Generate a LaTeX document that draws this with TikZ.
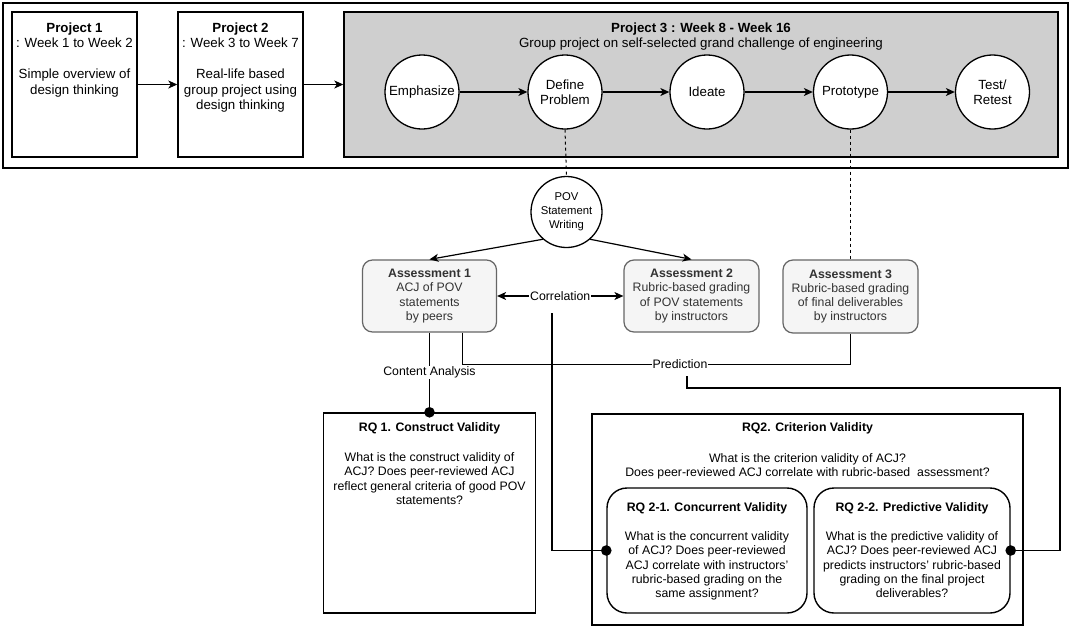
\documentclass[tikz,border=0pt]{standalone}
\usepackage{fontspec}
\setmainfont{Liberation Sans}
\usetikzlibrary{arrows.meta,calc}
\definecolor{pgray}{RGB}{207,207,207}
\definecolor{afill}{HTML}{F5F5F5}
\definecolor{aline}{HTML}{666666}
\definecolor{atext}{HTML}{333333}
\newcommand{\fbig}{\fontsize{13.3}{15.5}\selectfont}
\newcommand{\fmid}{\fontsize{12.3}{14.2}\selectfont}
\newcommand{\fpov}{\fontsize{11.3}{14}\selectfont}
\begin{document}
\begin{tikzpicture}[x=1pt,y=-1pt,
  plainbox/.style={draw, line width=1.4pt, inner sep=0pt},
  stagecirc/.style={draw, circle, fill=white, line width=1.3pt, minimum size=74pt, inner sep=0pt, align=center, font=\fbig},
  assess/.style={draw=aline, fill=afill, rounded corners=10pt, line width=1.2pt, text=atext, align=center, font=\fmid, inner sep=0pt, minimum width=134pt, minimum height=72pt},
  rqbox/.style={draw, rounded corners=20pt, line width=1.4pt, inner sep=0pt, minimum width=198pt, minimum height=125pt},
  boxtext/.style={anchor=north, align=center, inner sep=0pt},
  conn/.style={line width=1.2pt},
  arr/.style={conn, -{Stealth[length=9pt,width=8pt,inset=2.5pt]}},
  dualarr/.style={conn, {Stealth[length=9pt,width=8pt,inset=2.5pt]}-{Stealth[length=9pt,width=8pt,inset=2.5pt]}},
  dashline/.style={line width=1pt, dash pattern=on 3pt off 3pt},
  lbl/.style={fill=white, inner sep=1pt, font=\fmid}
]
\useasboundingbox (0,0) rectangle (1072,627);
\fill[white] (0,0) rectangle (1072,627);

% top frame
\node[plainbox, line width=1.6pt, minimum width=1065pt, minimum height=165pt] (frame) at (535.5,85.5) {};
\node[plainbox, minimum width=125pt, minimum height=145pt] (p1) at (74.5,84.5) {};
\node[plainbox, minimum width=125pt, minimum height=145pt] (p2) at (240.5,84.5) {};
\node[plainbox, fill=pgray, minimum width=714pt, minimum height=145pt] (p3) at (701,84.5) {};

\node[boxtext, font=\fbig] (p1t) at (74.5,22.3) {\textbf{Project 1}\\: Week 1 to Week 2\\[15.5pt]Simple overview of\\design thinking};
\node[boxtext, font=\fbig] (p2t) at (240.5,22.3) {\textbf{Project 2}\\: Week 3 to Week 7\\[15.5pt]Real-life based\\group project using\\design thinking};
\node[boxtext, font=\fbig] (p3t) at (701,22.3) {\textbf{Project 3 : Week 8 - Week 16}\\Group project on self-selected grand challenge of engineering};

\draw[arr] (p1.east) -- (p2.west);
\draw[arr] (p2.east) -- (p3.west);

\node[stagecirc] (emph) at (422,92) {Emphasize};
\node[stagecirc] (def) at (565,92) {Define\\Problem};
\node[stagecirc] (ide) at (707,92) {Ideate};
\node[stagecirc] (proto) at (850.5,92) {Prototype};
\node[stagecirc] (test) at (992.5,92) {Test/\\Retest};
\draw[arr] (emph) -- (def);
\draw[arr] (def) -- (ide);
\draw[arr] (ide) -- (proto);
\draw[arr] (proto) -- (test);

% POV and assessments
\node[draw, circle, fill=white, line width=1.3pt, minimum size=71pt, inner sep=0pt, align=center, font=\fpov] (pov) at (566.5,212) {POV\\Statement\\Writing};
\draw[dashline] (def.south) -- (pov.north);

\node[assess] (a1) at (429.5,296) {\textbf{Assessment 1}\\ACJ of POV\\statements\\by peers};
\node[assess, minimum width=135pt] (a2) at (691.5,296) {\textbf{Assessment 2}\\Rubric-based grading\\of POV statements\\by instructors};
\node[assess, minimum width=135pt, minimum height=73pt] (a3) at (850.5,296.5) {\textbf{Assessment 3}\\Rubric-based grading\\of final deliverables\\by instructors};
\draw[dashline] (proto.south) -- (a3.north);

\draw[arr] (pov.229) -- (a1.north);
\draw[arr] (pov.311) -- (a2.north);

\draw[dualarr] (a1.east) -- node[lbl] (corr) {Correlation} (a2.west);

% RQ boxes
\node[plainbox, minimum width=212pt, minimum height=200pt] (rq1) at (429.5,513) {};
\node[boxtext, font=\fmid] (rq1t) at (429.5,422.6) {\textbf{RQ 1. Construct Validity}\\[15.8pt]What is the construct validity of\\ACJ? Does peer-reviewed ACJ\\reflect general criteria of good POV\\statements?};

\node[plainbox, minimum width=431pt, minimum height=211pt] (rq2) at (807.5,519.5) {};
\node[boxtext, font=\fmid] (rq2t) at (807.5,422.6) {\textbf{RQ2. Criterion Validity}\\[16.8pt]What is the criterion validity of ACJ?\\Does peer-reviewed ACJ correlate with rubric-based~ assessment?};

\node[rqbox, minimum width=200pt] (rq21) at (707,550.5) {};
\node[boxtext, font=\fmid] (rq21t) at (707,502.6) {\textbf{RQ 2-1. Concurrent Validity}\\[14.8pt]What is the concurrent validity\\of ACJ? Does peer-reviewed\\ACJ correlate with instructors’\\rubric-based grading on the\\same assignment?};

\node[rqbox, minimum width=196pt] (rq22) at (912,550.5) {};
\node[boxtext, font=\fmid] (rq22t) at (912,502.6) {\textbf{RQ 2-2. Predictive Validity}\\[14.8pt]What is the predictive validity of\\ACJ? Does peer-reviewed ACJ\\predicts instructors’ rubric-based\\grading on the final project\\deliverables?};

% connectors
\draw[conn] (a1.south) -- node[lbl] (ca) {Content Analysis} (rq1.north);
\fill (rq1.north) circle (5.3);

\coordinate (cv) at (552,313);
\draw[conn] (cv) |- (rq21.west);
\fill (rq21.west) circle (5.3);

\draw[conn] ([xshift=33.2pt]a1.south) -- ++(0,32) -| (a3.south);
\node[lbl] (pred) at (680,364.5) {Prediction};
\coordinate (ps) at (687,376);
\coordinate (pturn) at (1060,388);
\draw[conn] (ps) |- (pturn) |- (rq22.east);
\fill (rq22.east) circle (5.3);
\end{tikzpicture}
\end{document}
